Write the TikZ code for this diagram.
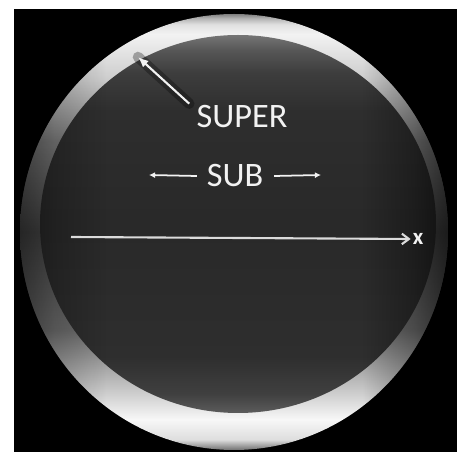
\documentclass[tikz,border=0pt]{standalone}
\usepackage{fontspec}
\setmainfont{Carlito}
\usepackage{xcolor}
\usetikzlibrary{arrows.meta, positioning, calc}

\definecolor{labelwhite}{gray}{0.95}
\definecolor{axisgray}{gray}{0.86}

% ring of the lens: light at top and bottom, dark at the sides
\pgfdeclareverticalshading{lensring}{100bp}{%
  color(0bp)=(white!44!black); color(25bp)=(white!44!black);
  color(26.2bp)=(white!87!black); color(28.5bp)=(white!97!black);
  color(32bp)=(white!78!black); color(38.8bp)=(white!42!black);
  color(50bp)=(white!27!black); color(60.5bp)=(white!48!black);
  color(67.5bp)=(white!80!black); color(72.7bp)=(white!95!black);
  color(73.8bp)=(white!88!black); color(74.5bp)=(white!70!black);
  color(75bp)=(white!50!black); color(100bp)=(white!50!black)}
% dark inner part
\pgfdeclareverticalshading{lenscore}{100bp}{%
  color(0bp)=(white!36!black); color(25bp)=(white!36!black);
  color(27.5bp)=(white!25!black); color(32.5bp)=(white!18!black);
  color(50bp)=(white!16!black); color(65bp)=(white!18!black);
  color(70bp)=(white!24!black); color(73bp)=(white!34!black);
  color(75bp)=(white!46!black); color(100bp)=(white!46!black)}
% darkening of the sides, multiplied over the lens
\pgfdeclarehorizontalshading{sidedark}{100bp}{%
  color(0bp)=(white!55!black); color(25bp)=(white!55!black);
  color(29bp)=(white!80!black); color(35bp)=(white);
  color(65bp)=(white); color(71bp)=(white!70!black);
  color(75bp)=(white!40!black); color(100bp)=(white!40!black)}

\begin{document}
\begin{tikzpicture}[x=0.02cm, y=-0.02cm,
  every node/.style={text=labelwhite, inner sep=1pt},
  biglabel/.style={font=\fontsize{19.5}{22}\selectfont},
  superarrow/.style={-{Latex[length=6pt, width=5pt]}, line width=1.2pt, labelwhite},
  subarrow/.style={-{Latex[length=3.5pt, width=3.5pt]}, line width=1pt, labelwhite},
  axisline/.style={-{Straight Barb[length=4pt, width=6pt]}, line width=1.2pt, axisgray},
  glow/.style={black, opacity=0.3, line cap=round}
]
  \useasboundingbox (0,0) rectangle (457,452);
  \fill[white] (0,0) rectangle (457,452);
  \fill[black] (14,9) rectangle (457,452);

  % lens
  \shade[shading=lensring] (234,232) ellipse [x radius=214, y radius=218];
  \shade[shading=lenscore] (238,224) ellipse [x radius=198, y radius=189];
  \begin{scope}[blend mode=multiply]
    \shade[shading=sidedark] (234,232) ellipse [x radius=214, y radius=218];
  \end{scope}

  \node[biglabel] (super) at (242,117) {SUPER};
  \node[biglabel] (sub) at (235,176) {SUB};
  \node[font=\fontsize{13}{15}\selectfont\bfseries] (xlab) at (418,239) {x};

  \coordinate (supertip) at (138,57);
  \coordinate (subleft) at (149,175);
  \coordinate (subright) at (321,175);
  \coordinate (xstart) at (71,237);

  \draw[glow, line width=6pt] ([xshift=-3pt]super.north west) -- (supertip);
  \draw[superarrow] ([xshift=-3pt]super.north west) -- (supertip);
  \draw[subarrow] ([xshift=-4.5pt]sub.west) -- (subleft);
  \draw[subarrow] ([xshift=5pt]sub.east) -- (subright);
  \draw[axisline] (xstart) -- (xlab.west);
\end{tikzpicture}
\end{document}
